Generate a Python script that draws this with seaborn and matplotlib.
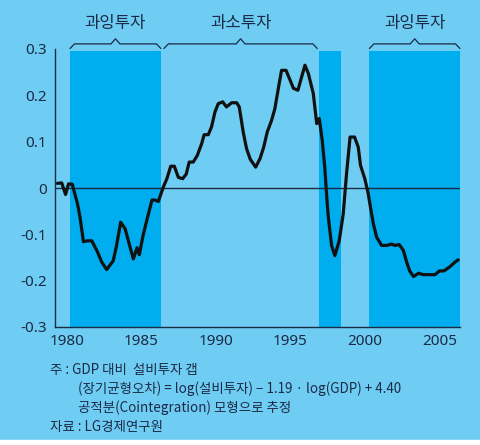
import matplotlib
matplotlib.use("Agg")
import matplotlib.pyplot as plt
import seaborn as sns
import pandas as pd
from matplotlib.ticker import FixedLocator, FuncFormatter, MultipleLocator

# ---- data ----
years = [1979.35, 1979.64, 1979.9, 1980.1, 1980.35, 1980.7, 1980.87, 1981.1, 1981.36, 1981.66,
         1982.0, 1982.33, 1982.66, 1983.1, 1983.3, 1983.6, 1983.9, 1984.2, 1984.45, 1984.7,
         1984.85, 1985.1, 1985.35, 1985.7, 1985.9, 1986.13, 1986.46, 1986.7, 1986.96, 1987.2,
         1987.47, 1987.76, 1988.0, 1988.2, 1988.47, 1988.74, 1989.04, 1989.2, 1989.48, 1989.7,
         1989.93, 1990.15, 1990.45, 1990.7, 1991.05, 1991.39, 1991.56, 1991.83, 1992.05, 1992.3,
         1992.66, 1992.95, 1993.2, 1993.44, 1993.73, 1993.95, 1994.2, 1994.4, 1994.7, 1994.97,
         1995.2, 1995.5, 1995.75, 1995.97, 1996.2, 1996.53, 1996.76, 1996.93, 1997.13, 1997.3,
         1997.45, 1997.54, 1997.76, 1997.98, 1998.27, 1998.54, 1998.76, 1999.0, 1999.3, 1999.55,
         1999.7, 1999.99, 2000.2, 2000.33, 2000.56, 2000.78, 2001.12, 2001.45, 2001.8, 2002.0,
         2002.3, 2002.58, 2002.8, 2003.0, 2003.26, 2003.6, 2003.9, 2004.36, 2004.7, 2005.0,
         2005.3, 2005.7, 2006.04, 2006.26]
gap = [0.01, 0.011, -0.014, 0.009, 0.008, -0.034, -0.063, -0.116, -0.114, -0.114,
       -0.135, -0.16, -0.176, -0.157, -0.128, -0.074, -0.088, -0.124, -0.153, -0.129,
       -0.144, -0.103, -0.07, -0.026, -0.026, -0.029, 0.002, 0.02, 0.047, 0.047,
       0.023, 0.02, 0.03, 0.056, 0.056, 0.07, 0.096, 0.115, 0.115, 0.132,
       0.164, 0.182, 0.186, 0.175, 0.184, 0.184, 0.175, 0.12, 0.085, 0.062,
       0.045, 0.063, 0.088, 0.121, 0.146, 0.171, 0.218, 0.254, 0.254, 0.233,
       0.215, 0.211, 0.24, 0.265, 0.247, 0.204, 0.139, 0.15, 0.103, 0.045,
       -0.027, -0.063, -0.124, -0.146, -0.114, -0.056, 0.03, 0.11, 0.11, 0.088,
       0.049, 0.02, -0.009, -0.034, -0.077, -0.106, -0.124, -0.124, -0.121, -0.124,
       -0.122, -0.135, -0.16, -0.179, -0.191, -0.184, -0.187, -0.187, -0.187, -0.179,
       -0.179, -0.17, -0.16, -0.155]

shade_start = [1980.2, 1996.9, 2000.3]
shade_end = [1986.3, 1998.4, 2006.38]

bracket_labels = ["과잉투자", "과소투자", "과잉투자"]
bracket_start = [1980.2, 1986.5, 2000.3]
bracket_end = [1986.3, 1996.8, 2006.38]

x_major = [1980, 1985, 1990, 1995, 2000, 2005]
y_ticks = [-0.3, -0.2, -0.1, 0, 0.1, 0.2, 0.3]

notes = [
    ("주 : GDP 대비  설비투자 갭", 0),
    ("(장기균형오차) = log(설비투자) − 1.19 · log(GDP) + 4.40", 1),
    ("공적분(Cointegration) 모형으로 추정", 1),
    ("자료 : LG경제연구원", 0),
]

# ---- style ----
BG = "#6FCDF4"
SHADE = "#00ADEE"
INK = "#1B2A45"

sns.set_style("white", {"axes.facecolor": BG, "figure.facecolor": BG})
plt.rcParams["font.family"] = ["Noto Sans CJK KR", "DejaVu Sans"]

fig = plt.figure(figsize=(4.8, 4.45), dpi=100)
ax = fig.add_axes([55 / 480, 1 - 327 / 445, 405 / 480, 278 / 445])
ax.set_facecolor(BG)

xmin, xmax = 1979.19, 2006.38
ymin, ymax = -0.3, 0.3
ax.set_xlim(xmin, xmax)
ax.set_ylim(ymin, ymax)

shade_top = (0.296 - ymin) / (ymax - ymin)
for s, e in zip(shade_start, shade_end):
    ax.axvspan(s, e, ymin=0, ymax=shade_top, color=SHADE, lw=0, zorder=1)

ax.axhline(0, color=INK, lw=1.0, zorder=2)

df = pd.DataFrame({"year": years, "gap": gap})
sns.lineplot(data=df, x="year", y="gap", ax=ax, color="#111111", lw=2.3,
             zorder=3, sort=False)
ax.set_xlabel("")
ax.set_ylabel("")

# brackets
yb, yp, ye = 0.311, 0.322, 0.301
for lab, s, e in zip(bracket_labels, bracket_start, bracket_end):
    c = (s + e) / 2
    xs = [s, s + 0.3, c - 0.3, c, c + 0.3, e - 0.3, e]
    ys = [ye, yb, yb, yp, yb, yb, ye]
    ax.plot(xs, ys, color=INK, lw=0.9, clip_on=False, zorder=4)
    ax.text(c, 0.354, lab, ha="center", va="center", fontsize=12,
            color=INK, clip_on=False)

# spines & ticks
for sp in ["top", "right"]:
    ax.spines[sp].set_visible(False)
for sp in ["left", "bottom"]:
    ax.spines[sp].set_color(INK)
    ax.spines[sp].set_linewidth(1.0)

ax.xaxis.set_major_locator(FixedLocator(x_major))
ax.xaxis.set_minor_locator(MultipleLocator(1))
ax.set_xticklabels([str(v) for v in x_major])
ax.tick_params(axis="x", which="both", direction="in", length=4, width=0.8,
               color=INK, labelsize=11, labelcolor=INK, pad=5)
ax.yaxis.set_major_locator(FixedLocator(y_ticks))
ax.yaxis.set_major_formatter(FuncFormatter(lambda v, p: "0" if abs(v) < 1e-9 else f"{v:.1f}"))
ax.tick_params(axis="y", direction="out", length=4, width=0.8, color=INK,
               labelsize=11, labelcolor=INK, pad=2)
for lbl in ax.get_xticklabels() + ax.get_yticklabels():
    lbl.set_family(["Noto Sans", "DejaVu Sans"])

# notes
ys_note = [370, 389, 408, 427]
for (txt, indent), yy in zip(notes, ys_note):
    x0 = 50 if indent == 0 else 78
    fig.text(x0 / 480, 1 - yy / 445, txt, ha="left", va="center",
             fontsize=9.7, color=INK)

# white strip at the bottom edge
fig.patches.append(plt.Rectangle((0, 0), 1, 5 / 445, transform=fig.transFigure,
                                 color="white", zorder=0))

fig.savefig("out.png", dpi=100, facecolor=BG)
